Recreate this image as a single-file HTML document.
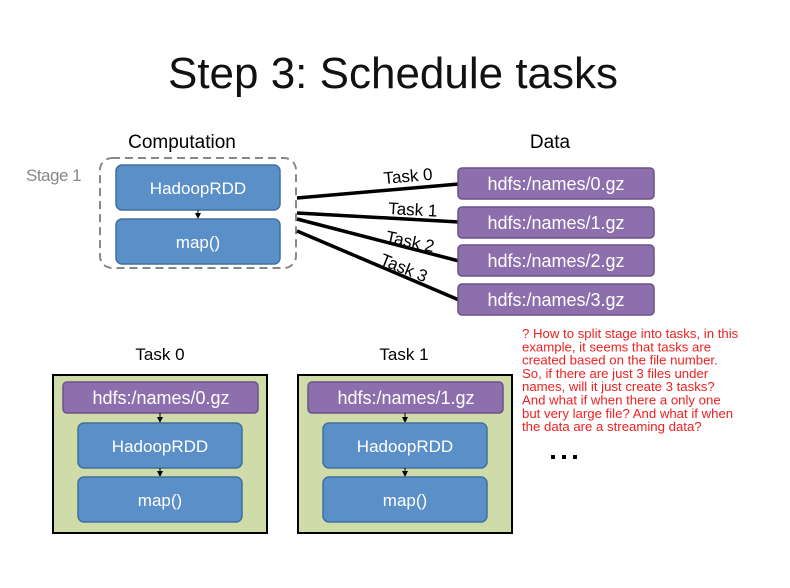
<!DOCTYPE html>
<html><head><meta charset="utf-8"><style>
body{margin:0;background:#fff}
svg{display:block}
text{font-family:"Liberation Sans",sans-serif}
</style></head><body>
<svg width="790" height="588" viewBox="0 0 790 588" xmlns="http://www.w3.org/2000/svg">
<defs><marker id="a" markerWidth="6" markerHeight="6" refX="5" refY="3" orient="auto"><path d="M0,0L6,3L0,6z" fill="#000"/></marker></defs>
<text x="393" y="88" font-size="44" text-anchor="middle" fill="#111">Step 3: Schedule tasks</text>
<text x="182" y="148" font-size="19" text-anchor="middle" fill="#000">Computation</text>
<text x="550" y="148" font-size="19" text-anchor="middle" fill="#000">Data</text>
<text x="26" y="181" font-size="17" fill="#888" letter-spacing="-0.5">Stage 1</text>
<rect x="100" y="158" width="196" height="110" rx="12" fill="none" stroke="#888" stroke-width="2" stroke-dasharray="8,5"/>
<rect x="116" y="165" width="164" height="45" rx="6" fill="#5b8fc8" stroke="#41709f" stroke-width="1.5"/>
<text x="198" y="194" font-size="17" fill="#fff" text-anchor="middle">HadoopRDD</text>
<line x1="198" y1="210" x2="198" y2="218" stroke="#000" marker-end="url(#a)"/>
<rect x="116" y="219" width="164" height="45" rx="6" fill="#5b8fc8" stroke="#41709f" stroke-width="1.5"/>
<text x="198" y="248" font-size="17" fill="#fff" text-anchor="middle">map()</text>
<g stroke="#000" stroke-width="3.5">
<line x1="297" y1="198" x2="459" y2="184"/>
<line x1="297" y1="213" x2="459" y2="222"/>
<line x1="297" y1="219" x2="459" y2="261"/>
<line x1="297" y1="231" x2="459" y2="300"/>
</g>
<g font-size="17" fill="#000">
<text x="384" y="184" transform="rotate(-5 384 184)">Task 0</text>
<text x="388" y="214" transform="rotate(3 388 214)">Task 1</text>
<text x="385" y="242" transform="rotate(12 385 242)">Task 2</text>
<text x="379" y="264" transform="rotate(22 379 264)">Task 3</text>
</g>
<g fill="#8e6fae" stroke="#6d5089" stroke-width="1.5">
<rect x="458" y="168" width="196" height="31" rx="4"/>
<rect x="458" y="207" width="196" height="31" rx="4"/>
<rect x="458" y="245" width="196" height="31" rx="4"/>
<rect x="458" y="284" width="196" height="31" rx="4"/>
</g>
<g font-size="18" fill="#fff" text-anchor="middle">
<text x="556" y="190">hdfs:/names/0.gz</text>
<text x="556" y="229">hdfs:/names/1.gz</text>
<text x="556" y="267">hdfs:/names/2.gz</text>
<text x="556" y="306">hdfs:/names/3.gz</text>
</g>
<g>
<rect x="53" y="375" width="214" height="158" fill="#cfdcaa" stroke="#000" stroke-width="2"/>
<rect x="63" y="382" width="195" height="31" rx="4" fill="#8e6fae" stroke="#6d5089" stroke-width="1.5"/>
<text x="161" y="404" font-size="18" fill="#fff" text-anchor="middle">hdfs:/names/0.gz</text>
<line x1="160" y1="413" x2="160" y2="422" stroke="#000" marker-end="url(#a)"/>
<rect x="78" y="423" width="164" height="45" rx="6" fill="#5b8fc8" stroke="#41709f" stroke-width="1.5"/>
<text x="160" y="452" font-size="17" fill="#fff" text-anchor="middle">HadoopRDD</text>
<line x1="160" y1="468" x2="160" y2="476" stroke="#000" marker-end="url(#a)"/>
<rect x="78" y="477" width="164" height="45" rx="6" fill="#5b8fc8" stroke="#41709f" stroke-width="1.5"/>
<text x="160" y="506" font-size="17" fill="#fff" text-anchor="middle">map()</text>
</g>
<text x="160" y="360" font-size="17" text-anchor="middle" fill="#000">Task 0</text>
<g transform="translate(245,0)">
<rect x="53" y="375" width="214" height="158" fill="#cfdcaa" stroke="#000" stroke-width="2"/>
<rect x="63" y="382" width="195" height="31" rx="4" fill="#8e6fae" stroke="#6d5089" stroke-width="1.5"/>
<text x="161" y="404" font-size="18" fill="#fff" text-anchor="middle">hdfs:/names/1.gz</text>
<line x1="160" y1="413" x2="160" y2="422" stroke="#000" marker-end="url(#a)"/>
<rect x="78" y="423" width="164" height="45" rx="6" fill="#5b8fc8" stroke="#41709f" stroke-width="1.5"/>
<text x="160" y="452" font-size="17" fill="#fff" text-anchor="middle">HadoopRDD</text>
<line x1="160" y1="468" x2="160" y2="476" stroke="#000" marker-end="url(#a)"/>
<rect x="78" y="477" width="164" height="45" rx="6" fill="#5b8fc8" stroke="#41709f" stroke-width="1.5"/>
<text x="160" y="506" font-size="17" fill="#fff" text-anchor="middle">map()</text>
</g>
<text x="404" y="360" font-size="17" text-anchor="middle" fill="#000">Task 1</text>
<g font-size="13.2" fill="#f02020">
<text x="522" y="338">? How to split stage into tasks, in this</text>
<text x="522" y="351.3">example, it seems that tasks are</text>
<text x="522" y="364.6">created based on the file number.</text>
<text x="522" y="377.9">So, if there are just 3 files under</text>
<text x="522" y="391.2">names, will it just create 3 tasks?</text>
<text x="522" y="404.5">And what if when there a only one</text>
<text x="522" y="417.8">but very large file? And what if when</text>
<text x="522" y="431.1">the data are a streaming data?</text>
</g>
<g fill="#000">
<rect x="551" y="455" width="4" height="4"/>
<rect x="562" y="455" width="4" height="4"/>
<rect x="573" y="455" width="4" height="4"/>
</g>
</svg>
</body></html>
